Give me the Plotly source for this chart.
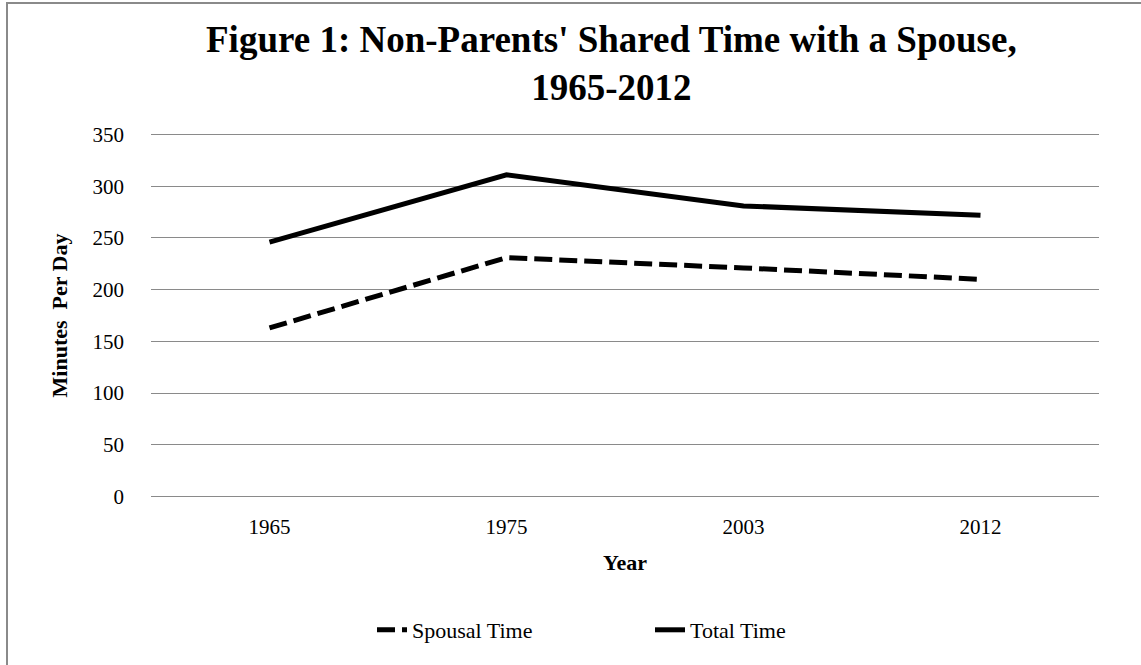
import plotly.graph_objects as go

# Survey years and minutes per day spent with a spouse
years = ["1965", "1975", "2003", "2012"]
spousal_time = [163, 231, 221, 210]
total_time = [246, 311, 281, 272]
y_ticks = [0, 50, 100, 150, 200, 250, 300, 350]

W, H = 1141, 665
ML, MR, MT, MB = 151, 42, 133, 167
PW, PH = W - ML - MR, H - MT - MB
Y_RANGE = [-1.5, 351.5]

SERIF = "Liberation Serif"


def px_x(px):
    return (px - ML) / PW


def px_y(py):
    return (H - MB - py) / PH


fig = go.Figure()
fig.add_trace(go.Scatter(
    x=years, y=spousal_time, name="Spousal Time", mode="lines",
    line=dict(color="black", width=5, dash="18px,7px"),
))
fig.add_trace(go.Scatter(
    x=years, y=total_time, name="Total Time", mode="lines",
    line=dict(color="black", width=5),
))

fig.update_layout(
    width=W, height=H,
    margin=dict(l=ML, r=MR, t=MT, b=MB, autoexpand=False),
    paper_bgcolor="white", plot_bgcolor="white",
    font=dict(family=SERIF, size=21, color="black"),
    xaxis=dict(
        type="category", range=[-0.5, 3.5],
        showgrid=False, showline=False, zeroline=False,
        ticks="", ticklabelstandoff=14,
        tickfont=dict(family=SERIF, size=21),
        title=dict(text="<b>Year</b>", standoff=16,
                   font=dict(family=SERIF, size=22)),
    ),
    yaxis=dict(
        range=Y_RANGE, tickvals=y_ticks,
        showgrid=True, gridcolor="#8a8a8a", gridwidth=1.2,
        zeroline=True, zerolinecolor="#8a8a8a", zerolinewidth=1.2,
        showline=False, ticks="",
        ticklabelstandoff=26,
        tickfont=dict(family=SERIF, size=21),
        title=dict(text="<b>Minutes  Per Day</b>", standoff=18,
                   font=dict(family=SERIF, size=22)),
    ),
    showlegend=True,
    legend=dict(
        orientation="h", x=px_x(372), xanchor="left",
        y=px_y(630), yanchor="middle",
        font=dict(family=SERIF, size=22, color="black"),
        entrywidth=233, entrywidthmode="pixels",
        bgcolor="rgba(0,0,0,0)",
    ),
    annotations=[dict(
        text="<b>Figure 1: Non-Parents' Shared Time with a Spouse,<br>1965-2012</b>",
        xref="paper", yref="paper", x=px_x(611), y=px_y(17),
        xanchor="center", yanchor="top", showarrow=False,
        font=dict(family=SERIF, size=37, color="black"),
    )],
    shapes=[dict(
        type="rect", xref="paper", yref="paper",
        x0=px_x(7), x1=px_x(W + 10), y0=px_y(3), y1=px_y(H + 10),
        line=dict(color="#8a8a8a", width=2), fillcolor="rgba(0,0,0,0)",
        layer="below",
    )],
)

fig.write_html("out.html")
